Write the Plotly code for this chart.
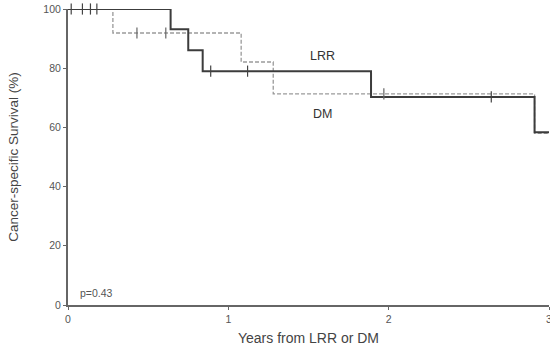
import plotly.graph_objects as go

# Kaplan-Meier step data (years, survival %)
lrr_t = [0, 0.64, 0.75, 0.84, 1.89, 2.91, 3.0]
lrr_s = [100, 93.2, 86.1, 79.0, 70.3, 58.4, 58.4]
dm_t = [0, 0.28, 1.08, 1.28, 2.91, 3.0]
dm_s = [100, 91.9, 82.1, 71.3, 58.0, 58.0]

# censored observations
lrr_cens_t = [0.02, 0.09, 0.14, 0.18, 0.89, 1.12, 2.64]
lrr_cens_s = [100, 100, 100, 100, 79.0, 79.0, 70.3]
dm_cens_t = [0.43, 0.61, 1.97]
dm_cens_s = [91.9, 91.9, 71.3]

x_ticks = [0, 1, 2, 3]
y_ticks = [0, 20, 40, 60, 80, 100]

fig = go.Figure()
fig.add_trace(go.Scatter(x=dm_t, y=dm_s, mode="lines", line_shape="hv",
                         line=dict(color="#9a9a9a", width=1.3, dash="4px,2px"),
                         cliponaxis=False, showlegend=False))
fig.add_trace(go.Scatter(x=lrr_t, y=lrr_s, mode="lines", line_shape="hv",
                         line=dict(color="#3c3c3c", width=2),
                         cliponaxis=False, showlegend=False))
fig.add_trace(go.Scatter(x=dm_cens_t, y=dm_cens_s, mode="markers",
                         marker=dict(symbol="line-ns-open", size=8, color="#666",
                                     line=dict(color="#666", width=1.2)),
                         cliponaxis=False, showlegend=False))
fig.add_trace(go.Scatter(x=lrr_cens_t, y=lrr_cens_s, mode="markers",
                         marker=dict(symbol="line-ns-open", size=8, color="#444",
                                     line=dict(color="#444", width=1.2)),
                         cliponaxis=False, showlegend=False))

fig.add_annotation(x=1.59, y=84, text="LRR", showarrow=False,
                   font=dict(size=12.5, color="#333"))
fig.add_annotation(x=1.59, y=64.5, text="DM", showarrow=False,
                   font=dict(size=12.5, color="#333"))
fig.add_annotation(x=0.065, y=4, text="p=0.43", showarrow=False, xanchor="left",
                   font=dict(size=10.5, color="#555"))

fig.update_layout(
    width=550, height=352,
    margin=dict(l=68, r=1, t=9, b=47),
    plot_bgcolor="white", paper_bgcolor="white",
    font=dict(family="Liberation Sans, Arial, sans-serif", color="#444"),
)
fig.update_xaxes(range=[0, 3], tickvals=x_ticks, showgrid=False, zeroline=False,
                 automargin=False, ticklabeloverflow="allow",
                 showline=True, linecolor="#666", linewidth=2,
                 ticks="outside", ticklen=3, tickcolor="#666",
                 tickfont=dict(size=10.5, color="#555"),
                 title=dict(text="Years from LRR or DM", font=dict(size=14, color="#444"),
                            standoff=10))
fig.update_yaxes(range=[0, 100], tickvals=y_ticks, showgrid=False, zeroline=False,
                 automargin=False, ticklabeloverflow="allow",
                 showline=True, linecolor="#666", linewidth=2,
                 ticks="outside", ticklen=3, tickcolor="#666",
                 tickfont=dict(size=10.5, color="#555"),
                 title=dict(text="Cancer-specific Survival (%)", font=dict(size=13.5, color="#444"),
                            standoff=22))

fig.write_html("out.html", config={"displayModeBar": False},
               post_script="document.body.style.margin='0';")
